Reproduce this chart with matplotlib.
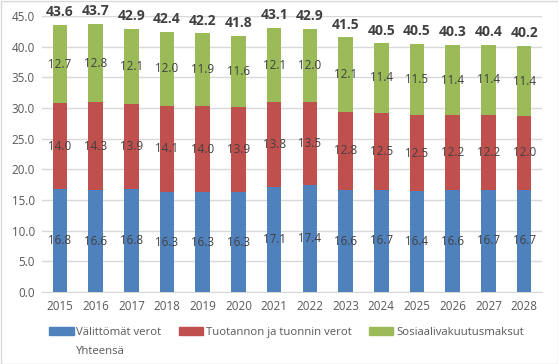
import matplotlib
matplotlib.use("Agg")
import matplotlib.pyplot as plt
from matplotlib.lines import Line2D
from matplotlib.patches import Patch, Rectangle
import numpy as np

years = ["2015", "2016", "2017", "2018", "2019", "2020", "2021", "2022",
         "2023", "2024", "2025", "2026", "2027", "2028"]
valittomat = [16.8, 16.6, 16.8, 16.3, 16.3, 16.3, 17.1, 17.4, 16.6, 16.7, 16.4, 16.6, 16.7, 16.7]
tuotannon = [14.0, 14.3, 13.9, 14.1, 14.0, 13.9, 13.8, 13.5, 12.8, 12.5, 12.5, 12.2, 12.2, 12.0]
sosiaali = [12.7, 12.8, 12.1, 12.0, 11.9, 11.6, 12.1, 12.0, 12.1, 11.4, 11.5, 11.4, 11.4, 11.4]
yhteensa = [43.6, 43.7, 42.9, 42.4, 42.2, 41.8, 43.1, 42.9, 41.5, 40.5, 40.5, 40.3, 40.4, 40.2]
series_names = ["Välittömät verot", "Tuotannon ja tuonnin verot", "Sosiaalivakuutusmaksut", "Yhteensä"]
yticks = [0, 5, 10, 15, 20, 25, 30, 35, 40, 45]

colors = ["#4F81BD", "#C0504D", "#9BBB59"]
txt = "#404040"
plt.rcParams['font.family'] = ['Open Sans', 'DejaVu Sans']

fig = plt.figure(figsize=(5.58, 3.64), dpi=100)
ax = fig.add_axes([42/558, 1-292/364, 500/558, 276/364])
fig.add_artist(Rectangle((0.5/558, 0.5/364), 1-1/558, 1-1/364, transform=fig.transFigure,
                         fill=False, edgecolor="#D9D9D9", linewidth=1))

x = np.arange(len(years))
w = 0.41
b1 = ax.bar(x, valittomat, w, color=colors[0], zorder=3)
b2 = ax.bar(x, tuotannon, w, bottom=valittomat, color=colors[1], zorder=3)
bot2 = np.array(valittomat) + np.array(tuotannon)
b3 = ax.bar(x, sosiaali, w, bottom=bot2, color=colors[2], zorder=3)

for bars in (b1, b2, b3):
    for r in bars:
        ax.text(r.get_x() + r.get_width()/2, r.get_y() + r.get_height()/2,
                f"{r.get_height():.1f}", ha="center", va="center",
                fontsize=8.4, color=txt, zorder=4)

for xi, t in zip(x, yhteensa):
    ax.annotate(f"{t:.1f}", (xi, t), xytext=(0, 4), textcoords="offset points",
                ha="center", va="bottom", fontsize=10, fontweight="bold",
                color=txt, annotation_clip=False)

ax.set_xlim(-0.5, len(years) - 0.5)
ax.set_ylim(0, 45)
ax.set_yticks(yticks)
ax.set_yticklabels([f"{v:.1f}" for v in yticks])
ax.set_xticks(x)
ax.set_xticklabels(years)
ax.tick_params(length=0, labelsize=8.4, labelcolor="#595959")
ax.tick_params(axis="x", pad=6)
ax.tick_params(axis="y", pad=5)
ax.yaxis.grid(True, color="#D9D9D9", linewidth=1, zorder=0)
for s in ["top", "right", "left"]:
    ax.spines[s].set_visible(False)
ax.spines["bottom"].set_color("#D9D9D9")

handles = [Patch(color=colors[0]), Line2D([], [], color="none"),
           Patch(color=colors[1]), Patch(color=colors[2])]
labels = [series_names[0], series_names[3], series_names[1], series_names[2]]
fig.legend(handles, labels, ncol=3, loc="upper left", bbox_to_anchor=(40/558, 1-318/364),
           frameon=False, fontsize=8.2, labelcolor="#595959",
           handlelength=2.15, handleheight=0.6, handletextpad=0.25,
           columnspacing=1.5, labelspacing=0.65, borderpad=0.3)

fig.savefig("out.png", dpi=100)
